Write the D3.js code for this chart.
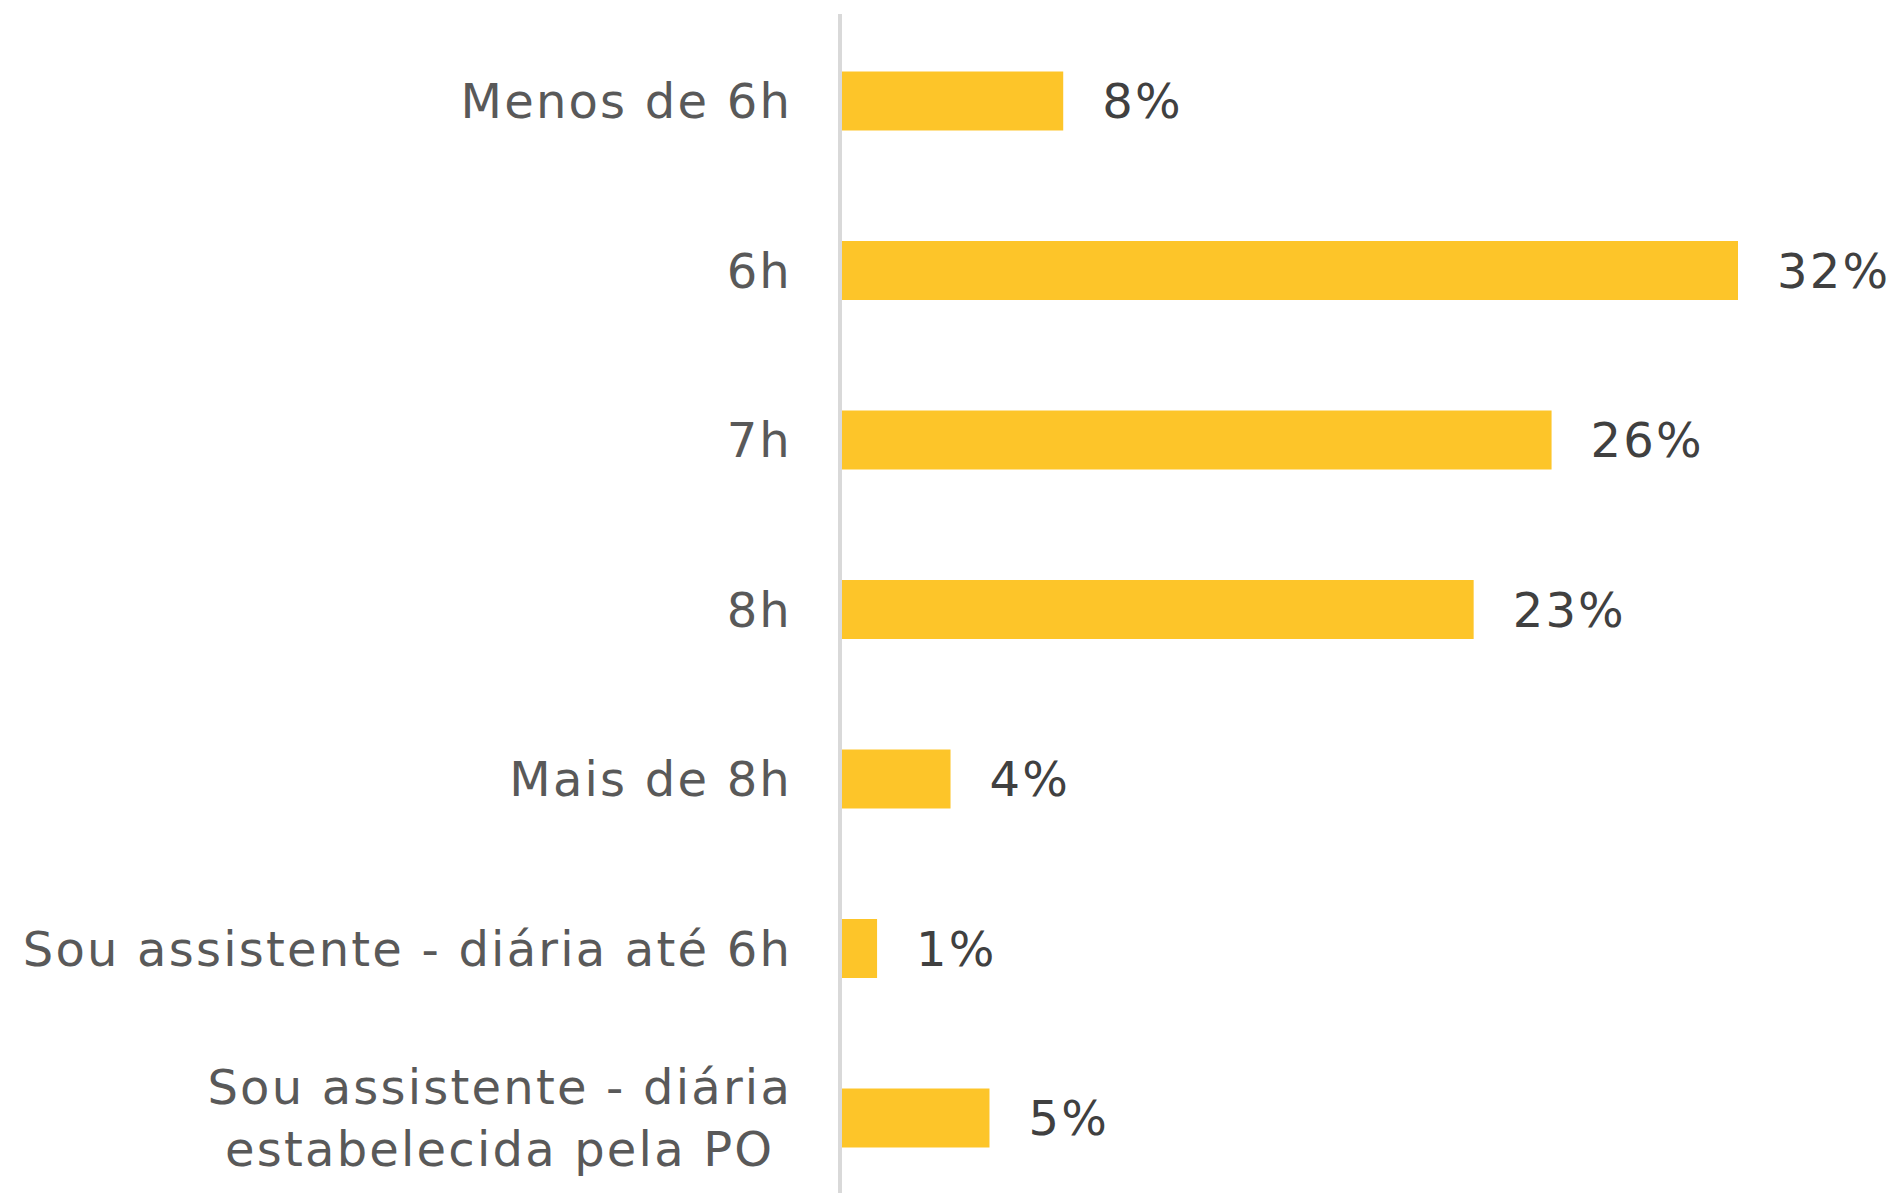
<!DOCTYPE html>
<html>
<head>
<meta charset="utf-8">
<script src="https://cdn.jsdelivr.net/npm/d3@7"></script>
<style>
    body { margin: 0; background: #fff; }
    svg { display: block; }
    .label { font-family: "DejaVu Sans", Verdana, sans-serif; font-size: 48px; letter-spacing: 2.2px; }
    .cat { fill: #595959; }
    .val { fill: #404040; }
</style>
</head>
<body>
<div class="container"></div>
<script>
"use strict";

var width = 1897;
var height = 1193;

// Categories, top to bottom ("\n" = line break in the label)
var categories = [
    "Menos de 6h",
    "6h",
    "7h",
    "8h",
    "Mais de 8h",
    "Sou assistente - diária até 6h",
    "Sou assistente - diária\nestabelecida pela PO"
];

// Share of answers (%)
var values = [7.95, 32.2, 25.5, 22.7, 3.9, 1.26, 5.3];

var data = categories.map(function(c, i) { return {name: c, value: values[i]}; });

var svg = d3.select(".container").append("svg")
    .attr("width", width)
    .attr("height", height);

var x = d3.scaleLinear()
    .domain([0, 32.2])
    .range([842, 1738]);

var y = d3.scaleBand()
    .domain(categories)
    .range([16.25, 16.25 + 7 * 169.5])
    .paddingInner(0.652)
    .paddingOuter(0.326);

// bars
svg.selectAll(".bar")
    .data(data)
    .enter().append("rect")
    .attr("class", "bar")
    .attr("x", x(0))
    .attr("y", function(d) { return y(d.name); })
    .attr("width", function(d) { return x(d.value) - x(0); })
    .attr("height", y.bandwidth())
    .attr("fill", "#fdc529");

// vertical axis line
svg.append("line")
    .attr("x1", 840).attr("x2", 840)
    .attr("y1", 14).attr("y2", height)
    .attr("stroke", "#d9d9d9")
    .attr("stroke-width", 4);

// value labels
svg.selectAll(".val")
    .data(data)
    .enter().append("text")
    .attr("class", "label val")
    .attr("x", function(d) { return x(d.value) + 39; })
    .attr("y", function(d) { return y(d.name) + y.bandwidth() / 2 + 17; })
    .text(function(d) { return Math.round(d.value) + "%"; });

// category labels, right aligned block, lines centred on each other
var labelRight = 792;
var lineGap = 62;

svg.selectAll(".cat")
    .data(data)
    .enter().append("text")
    .attr("class", "label cat")
    .attr("text-anchor", "middle")
    .each(function(d) {
        var lines = d.name.split("\n");
        var cy = y(d.name) + y.bandwidth() / 2 + 17 - (lines.length - 1) * lineGap / 2;
        var t = d3.select(this);
        lines.forEach(function(line, i) {
            t.append("tspan")
                .attr("x", 0)
                .attr("y", cy + i * lineGap)
                .text(line);
        });
        var w = this.getBBox().width;
        t.attr("transform", "translate(" + (labelRight - w / 2) + ",0)");
    });
</script>
</body>
</html>
